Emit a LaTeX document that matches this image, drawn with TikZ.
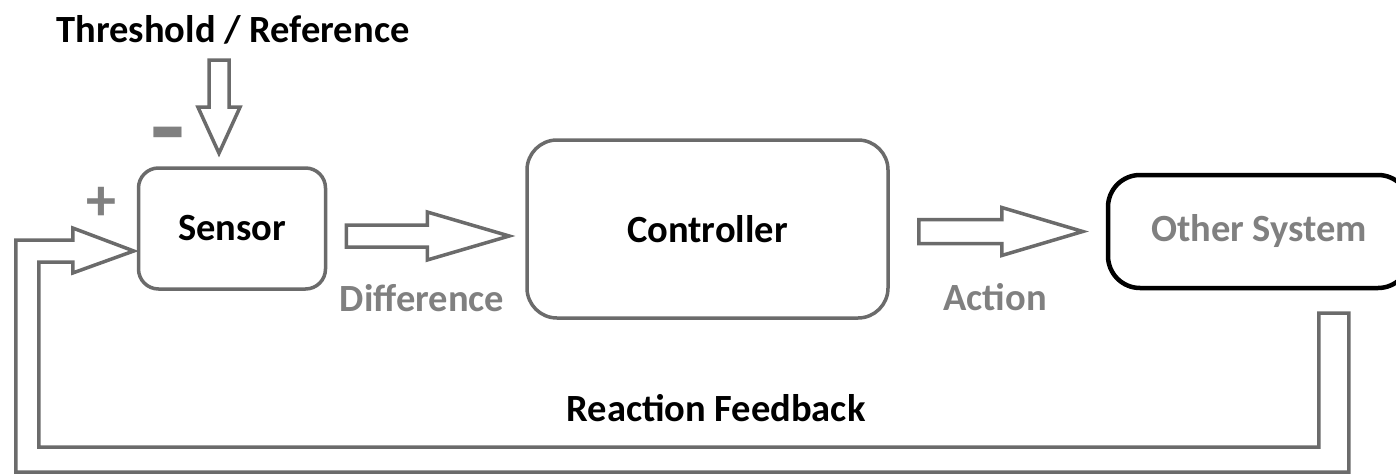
\documentclass[tikz,border=0pt]{standalone}
\usepackage{fontspec}
\usepackage{graphicx}
\setmainfont{Carlito}
\usetikzlibrary{calc}
\definecolor{lg}{HTML}{6B6B6B}
\definecolor{tg}{HTML}{808080}
\newcommand\txtfont{\fontsize{38.5}{46}\selectfont\bfseries}
\begin{document}
\begin{tikzpicture}[x=1pt,y=-1pt,
  box/.style={draw=lg, line width=3.5pt, rounded corners=#1, fill=white, font=\txtfont, text=black},
  box/.default=20pt,
  hollow/.style={draw=lg, line width=3.5pt, fill=white, line join=miter},
  lbl/.style={font=\txtfont, text=black, inner sep=0pt}]
\useasboundingbox (0,0) rectangle (1396,476);
% boxes
\node[box=20pt, minimum width=187pt, minimum height=121pt] (sensor) at (232,228.5) {Sensor};
\node[box=30pt, minimum width=361pt, minimum height=178pt] (ctrl) at (707.5,229) {Controller};
\node[box=32pt, draw=black, line width=4.5pt, text=tg, minimum width=302pt, minimum height=113pt] (other) at (1259,231.5) {Other System};
% Difference arrow
\draw[hollow] ($(ctrl.west)+(-16,7)$) coordinate (dtip) -- ++(-82,-24) -- ++(0,13) -- ++(-81,0) -- ++(0,22) -- ++(81,0) -- ++(0,13) -- cycle;
% Action arrow
\draw[hollow] ($(other.west)+(-23,0)$) coordinate (atip) -- ++(-81,-24) -- ++(0,12) -- ++(-83,0) -- ++(0,24) -- ++(83,0) -- ++(0,12) -- cycle;
% Reference arrow
\draw[hollow] ($(sensor.north)+(-13,-13)$) coordinate (rtip) -- ++(-21,-46) -- ++(11,0) -- ++(0,-47) -- ++(20,0) -- ++(0,47) -- ++(11,0) -- cycle;
% Feedback arrow
\draw[hollow] ($(sensor.west)+(-3,22.5)$) coordinate (ftip) -- ++(-61,-23) -- ++(0,12) -- ++(-57,0) -- ++(0,232) -- ++(1333,0) -- ++(0,-159) -- ++(-30,0) -- ++(0,134) -- ++(-1280,0) -- ++(0,-185) -- ++(34,0) -- ++(0,11) -- cycle;
% labels
\node[lbl] (thr) at (233,30) {Threshold / Reference};
\node[lbl, text=tg, font=\fontsize{60}{60}\selectfont\bfseries] (minus) at (168,144) {\scalebox{1.9}[1.7]{-}};
\node[lbl, text=tg, font=\fontsize{60}{60}\selectfont\bfseries] (plus) at (101,204) {+};
\node[lbl, text=tg] (diff) at (422,298) {Difference};
\node[lbl, text=tg] (act) at (995,297) {Action};
\node[lbl] (rf) at (716,408) {Reaction Feedback};
\end{tikzpicture}
\end{document}
